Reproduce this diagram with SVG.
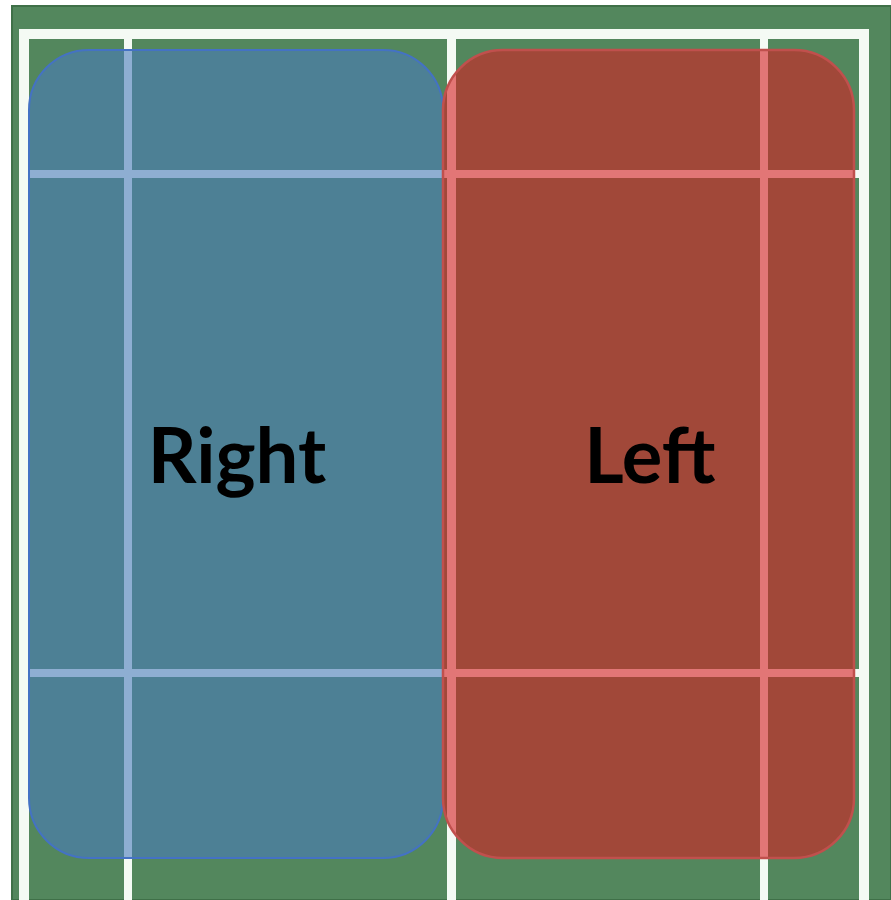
<svg xmlns="http://www.w3.org/2000/svg" width="891" height="900" viewBox="0 0 891 900">
  <style>
    .line { fill: #f4faf4; }
    .lbl { font-family: Lato, "Open Sans", "Liberation Sans", sans-serif; font-weight: bold; font-size: 76px; fill: #000; text-anchor: middle; }
  </style>
  <rect x="0" y="0" width="891" height="900" fill="#ffffff"/>
  <g id="court">
    <rect x="12" y="6" width="879" height="894" fill="#53875d"/>
    <rect x="12" y="6" width="879" height="894" fill="none" stroke="#3f7048" stroke-width="2"/>
    <!-- outer lines -->
    <rect class="line" x="19" y="29" width="850" height="10"/>
    <rect class="line" x="19" y="29" width="10" height="871"/>
    <rect class="line" x="859" y="29" width="10" height="871"/>
    <!-- inner vertical lines -->
    <rect class="line" x="124" y="39" width="8" height="861"/>
    <rect class="line" x="447" y="39" width="9" height="861"/>
    <rect class="line" x="760" y="39" width="8" height="861"/>
    <!-- horizontal lines -->
    <rect class="line" x="29" y="170" width="830" height="8"/>
    <rect class="line" x="29" y="669" width="830" height="8"/>
  </g>
  <g id="right">
    <rect x="29" y="50" width="414" height="808" rx="60" ry="60" fill="#4a7bbb" fill-opacity="0.6" stroke="#4472c4" stroke-width="2"/>
    <text class="lbl" x="237" y="483">Right</text>
  </g>
  <g id="left">
    <rect x="443" y="50" width="411" height="808" rx="60" ry="60" fill="#d61e22" fill-opacity="0.6" stroke="#c0504d" stroke-width="2.5"/>
    <text class="lbl" x="650" y="483">Left</text>
  </g>
</svg>
